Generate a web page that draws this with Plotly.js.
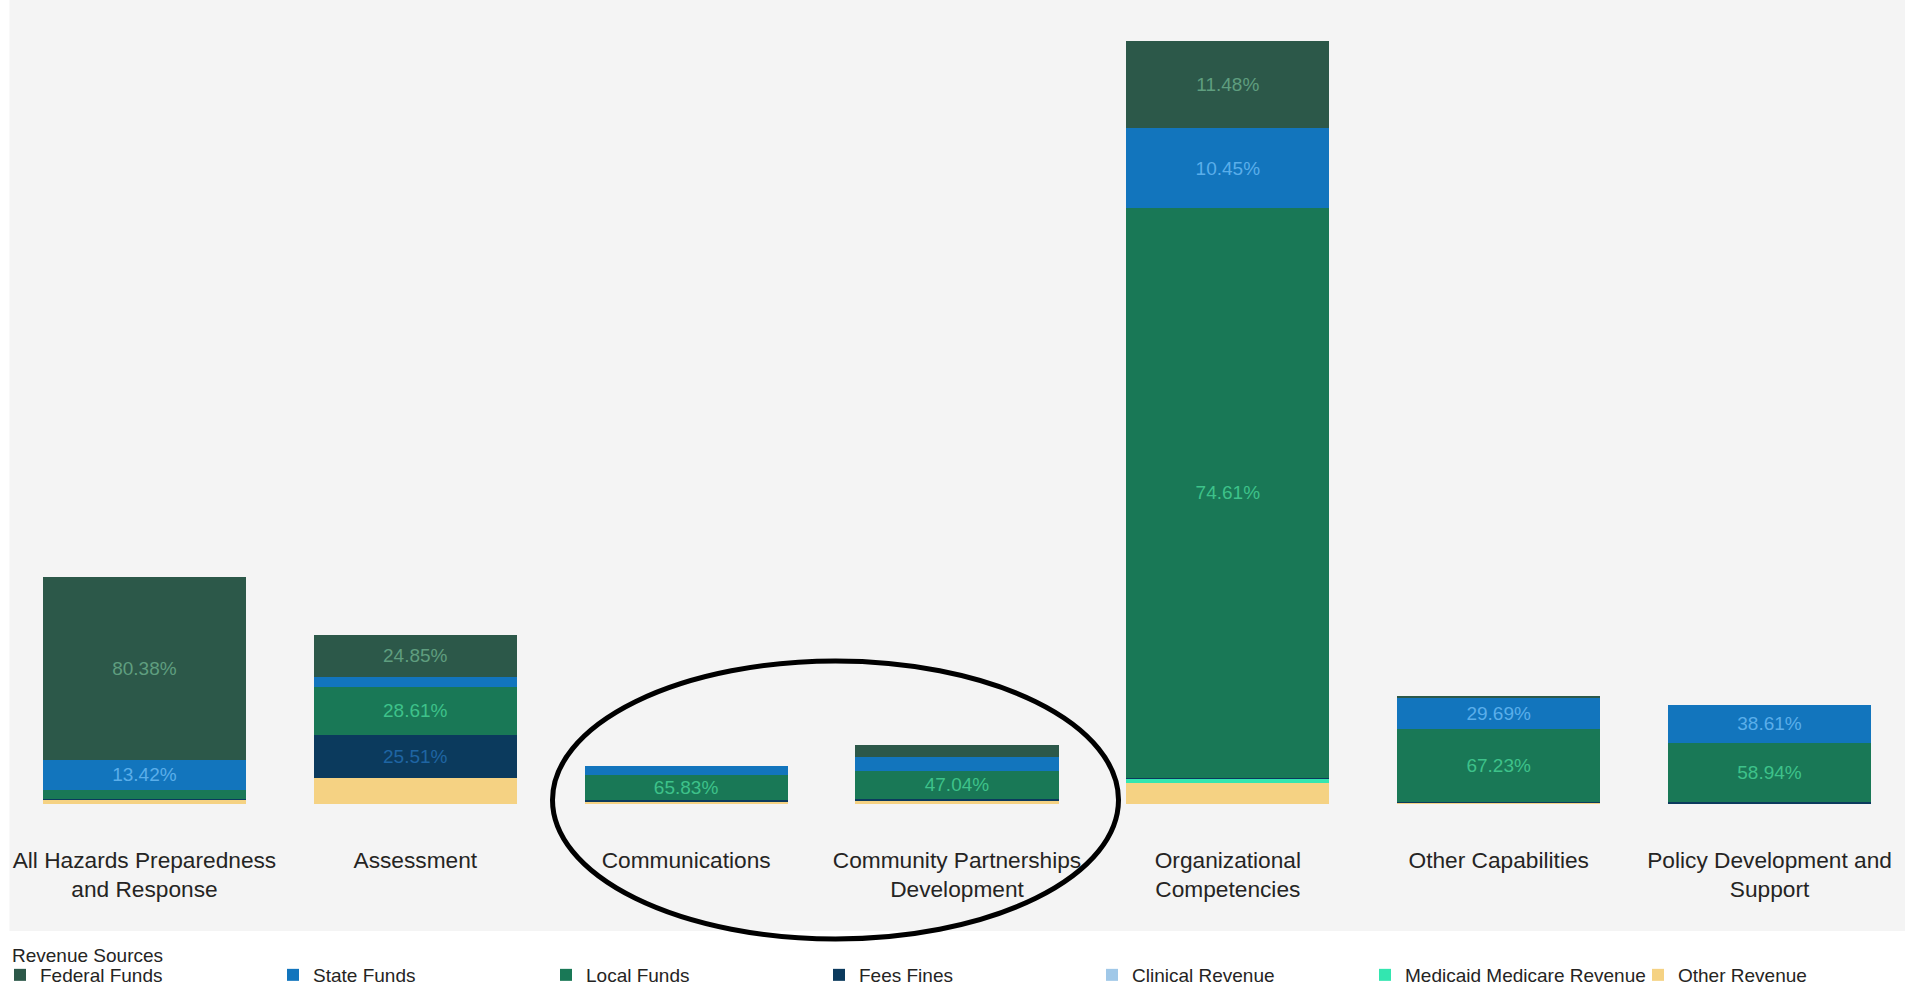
<!DOCTYPE html>
<html>
<head>
<meta charset="utf-8">
<script src="https://cdn.plot.ly/plotly-3.0.1.min.js"></script>
<style>
  html, body { margin: 0; padding: 0; background: #fff; }
  #chart { width: 1905px; height: 986px; }
</style>
</head>
<body>
<div id="chart"></div>
<script>
/* ─── Revenue Sources by Capability ─── */

const categories = [
    'All Hazards Preparedness and Response',
    'Assessment',
    'Communications',
    'Community Partnerships Development',
    'Organizational Competencies',
    'Other Capabilities',
    'Policy Development and Support',
];
const tickLabels = [
    'All Hazards Preparedness<br>and Response',
    'Assessment',
    'Communications',
    'Community Partnerships<br>Development',
    'Organizational<br>Competencies',
    'Other Capabilities',
    'Policy Development and<br>Support',
];

// category totals ($M)
const totals = [9.07, 6.77, 1.51, 2.38, 30.54, 4.30, 3.97];

// share of each category total, %
const federalFunds     = [80.38, 24.85,  0.00, 20.50, 11.48,  0.80,  0.00];
const stateFunds       = [13.42,  5.80, 23.50, 24.00, 10.45, 29.69, 38.61];
const localFunds       = [ 4.00, 28.61, 65.83, 47.04, 74.61, 67.23, 58.94];
const feesFines        = [ 0.35, 25.51,  2.80,  2.80,  0.10,  1.00,  1.65];
const clinicalRevenue  = [ 0.00,  0.00,  0.00,  0.00,  0.00,  0.00,  0.00];
const medicaidMedicare = [ 0.00,  0.00,  0.00,  0.00,  0.66,  0.00,  0.00];
const otherRevenue     = [ 1.85, 15.23,  7.87,  5.66,  2.70,  1.28,  0.80];

// stacked bottom -> top
const SERIES = [
    { name: 'Other Revenue',             share: otherRevenue,     color: '#f5d283', text: null },
    { name: 'Medicaid Medicare Revenue', share: medicaidMedicare, color: '#33e6b0', text: '#1a8a66' },
    { name: 'Clinical Revenue',          share: clinicalRevenue,  color: '#a0c8e8', text: '#4a86b8' },
    { name: 'Fees Fines',                share: feesFines,        color: '#0b3a5d', text: '#1f65a3' },
    { name: 'Local Funds',               share: localFunds,       color: '#197856', text: '#3ec28a' },
    { name: 'State Funds',               share: stateFunds,       color: '#1275bd', text: '#5aaeea' },
    { name: 'Federal Funds',             share: federalFunds,     color: '#2c5849', text: '#5f9e7f' },
];

const LABEL_MIN = 0.8;   // segments smaller than this get no label
const FONT = 'Arial, "Liberation Sans", sans-serif';

const W = 1905, H = 986;
const M = { l: 9, r: 0, t: 10, b: 182 };
const pw = W - M.l - M.r, ph = H - M.t - M.b;
const px = x => (x - M.l) / pw;
const py = y => (H - M.b - y) / ph;

const traces = SERIES.map(s => {
    const y = totals.map((t, i) => t * s.share[i] / 100);
    return {
        type: 'bar',
        name: s.name,
        x: categories,
        y: y,
        text: y.map((v, i) => (s.text && v >= LABEL_MIN) ? s.share[i].toFixed(2) + '%' : ''),
        textposition: 'inside',
        insidetextanchor: 'middle',
        textangle: 0,
        textfont: { family: FONT, size: 19, color: s.text || '#000' },
        marker: { color: s.color, line: { width: 0 } },
        legendwidth: s.name === 'Other Revenue' ? 150 : undefined,
        hovertemplate: '%{x}<br>' + s.name + ': %{text}<extra></extra>',
    };
});

const layout = {
    width: W,
    height: H,
    margin: { ...M, autoexpand: false },
    paper_bgcolor: '#ffffff',
    plot_bgcolor: 'rgba(0,0,0,0)',
    barmode: 'stack',
    bargap: 0.25,
    font: { family: FONT, color: '#252423' },
    uniformtext: { minsize: 19, mode: 'show' },
    xaxis: {
        type: 'category',
        tickvals: categories,
        ticktext: tickLabels,
        tickfont: { family: FONT, size: 22.7, color: '#252423' },
        ticklabelstandoff: 40,
        showgrid: false,
        zeroline: false,
        showline: false,
        ticks: '',
        fixedrange: true,
    },
    yaxis: {
        range: [0, Math.max(...totals) * 1.04],
        visible: false,
        showgrid: false,
        zeroline: false,
        fixedrange: true,
    },
    showlegend: true,
    legend: {
        orientation: 'h',
        traceorder: 'reversed',
        xref: 'container',
        yref: 'container',
        x: -7 / W,
        y: 1 - 956 / H,
        xanchor: 'left',
        yanchor: 'top',
        entrywidth: 228,
        entrywidthmode: 'pixels',
        itemwidth: 30,
        bgcolor: 'rgba(0,0,0,0)',
        font: { family: FONT, size: 19, color: '#252423' },
    },
    annotations: [
        // legend heading
        {
            text: 'Revenue Sources', showarrow: false,
            xref: 'paper', yref: 'paper', x: px(10), y: py(955),
            xanchor: 'left', yanchor: 'middle',
            font: { family: FONT, size: 19, color: '#252423' },
        },
    ],
    shapes: [
        // grey card behind the plot
        {
            type: 'rect', xref: 'paper', yref: 'paper', layer: 'below',
            x0: px(9.5), x1: px(1905), y0: py(931), y1: py(0),
            fillcolor: '#f4f4f4', line: { width: 0 },
        },
        // hand-drawn highlight round Communications / Community Partnerships
        {
            type: 'circle', xref: 'paper', yref: 'paper',
            x0: px(552.5), x1: px(1118.5), y0: py(939), y1: py(661),
            line: { color: '#000000', width: 5 },
        },
    ],
};

const config = { displayModeBar: false, responsive: false };

Plotly.newPlot('chart', traces, layout, config).then(() => {
    // wider legend swatches, like the original
    document.querySelectorAll('#chart .legendbar').forEach(p => p.setAttribute('d', 'M16,8H-3.4V-8H16Z'));
});
</script>
</body>
</html>
